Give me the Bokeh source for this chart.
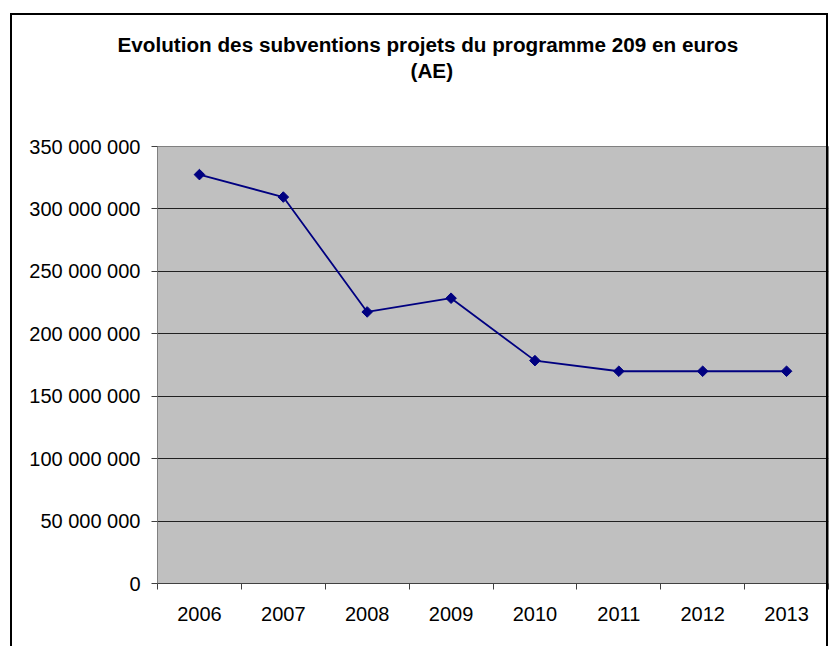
from bokeh.plotting import figure
from bokeh.models import FixedTicker, Range1d, Title, InlineStyleSheet
from bokeh.embed import file_html
from bokeh.resources import INLINE
from math import pi

years = ["2006", "2007", "2008", "2009", "2010", "2011", "2012", "2013"]
values = [327500000, 309500000, 217500000, 228500000, 178500000, 170000000, 170000000, 170000000]
y_ticks = [0, 50000000, 100000000, 150000000, 200000000, 250000000, 300000000, 350000000]
y_tick_labels = ["0", "50 000 000", "100 000 000", "150 000 000", "200 000 000",
                 "250 000 000", "300 000 000", "350 000 000"]
title_line1 = "Evolution des subventions projets du programme  209 en euros"
title_line2 = "(AE)"

xs = [i + 0.5 for i in range(len(years))]
Y_MAX = 350000000
n = len(years)

W, H = 830, 646
FL, FR, FT, FB = 157, 2, 146, 63

border_css = InlineStyleSheet(css="""
:host::after {
  content: "";
  position: absolute;
  left: 10px;
  top: 13px;
  width: 818px;
  height: 700px;
  border: 2px solid black;
  box-sizing: border-box;
  pointer-events: none;
}
""")

p = figure(width=W, height=H, output_backend="svg", toolbar_location=None,
           x_range=Range1d(0, n), y_range=Range1d(0, Y_MAX),
           min_border_left=FL, min_border_right=FR, min_border_top=FT, min_border_bottom=FB,
           stylesheets=[border_css])
p.title.visible = False
p.background_fill_color = "#c0c0c0"
p.border_fill_color = "white"
p.outline_line_color = "#808080"
p.outline_line_width = 1

# axes
p.xaxis.ticker = FixedTicker(ticks=xs, minor_ticks=list(range(n + 1)))
p.xaxis.major_label_overrides = {x: y for x, y in zip(xs, years)}
p.xaxis.major_tick_line_color = None
p.xaxis.major_tick_out = 6
p.xaxis.major_tick_in = 0
p.xaxis.minor_tick_line_color = "#404040"
p.xaxis.minor_tick_out = 6
p.xaxis.minor_tick_in = 0
p.xaxis.axis_line_color = "#404040"
p.xaxis.major_label_standoff = 17
p.xaxis.major_label_text_font = "Liberation Sans"
p.xaxis.major_label_text_font_size = "20px"
p.xaxis.major_label_text_color = "black"

p.yaxis.ticker = FixedTicker(ticks=y_ticks)
p.yaxis.major_label_overrides = {t: l for t, l in zip(y_ticks, y_tick_labels)}
p.yaxis.minor_tick_line_color = None
p.yaxis.major_tick_out = 6
p.yaxis.major_tick_in = 0
p.yaxis.major_tick_line_color = "#404040"
p.yaxis.axis_line_color = "#808080"
p.yaxis.major_label_standoff = 11
p.yaxis.major_label_text_font = "Liberation Sans"
p.yaxis.major_label_text_font_size = "20px"
p.yaxis.major_label_text_color = "black"

p.xgrid.grid_line_color = None
p.ygrid.ticker = FixedTicker(ticks=y_ticks)
p.ygrid.grid_line_color = "#202020"
p.ygrid.grid_line_width = 1

p.line(xs, values, line_color="#000080", line_width=1.8)
p.scatter(xs, values, marker="square", angle=pi / 4, size=7.5,
          fill_color="#000080", line_color="#000080")

# title, stacked from the frame outwards: spacer, second line, first line
p.add_layout(Title(text=" ", text_font_size="10px", standoff=50), "above")
p.add_layout(Title(text=title_line2, align="left", offset=253, standoff=4,
                   vertical_align="bottom",
                   text_font="Liberation Sans", text_font_style="bold",
                   text_font_size="20.7px", text_color="black"), "above")
p.add_layout(Title(text=title_line1, align="left", offset=-40, standoff=-2,
                   vertical_align="bottom",
                   text_font="Liberation Sans", text_font_style="bold",
                   text_font_size="20.7px", text_color="black"), "above")

open("out.html", "w").write(file_html(p, INLINE))
